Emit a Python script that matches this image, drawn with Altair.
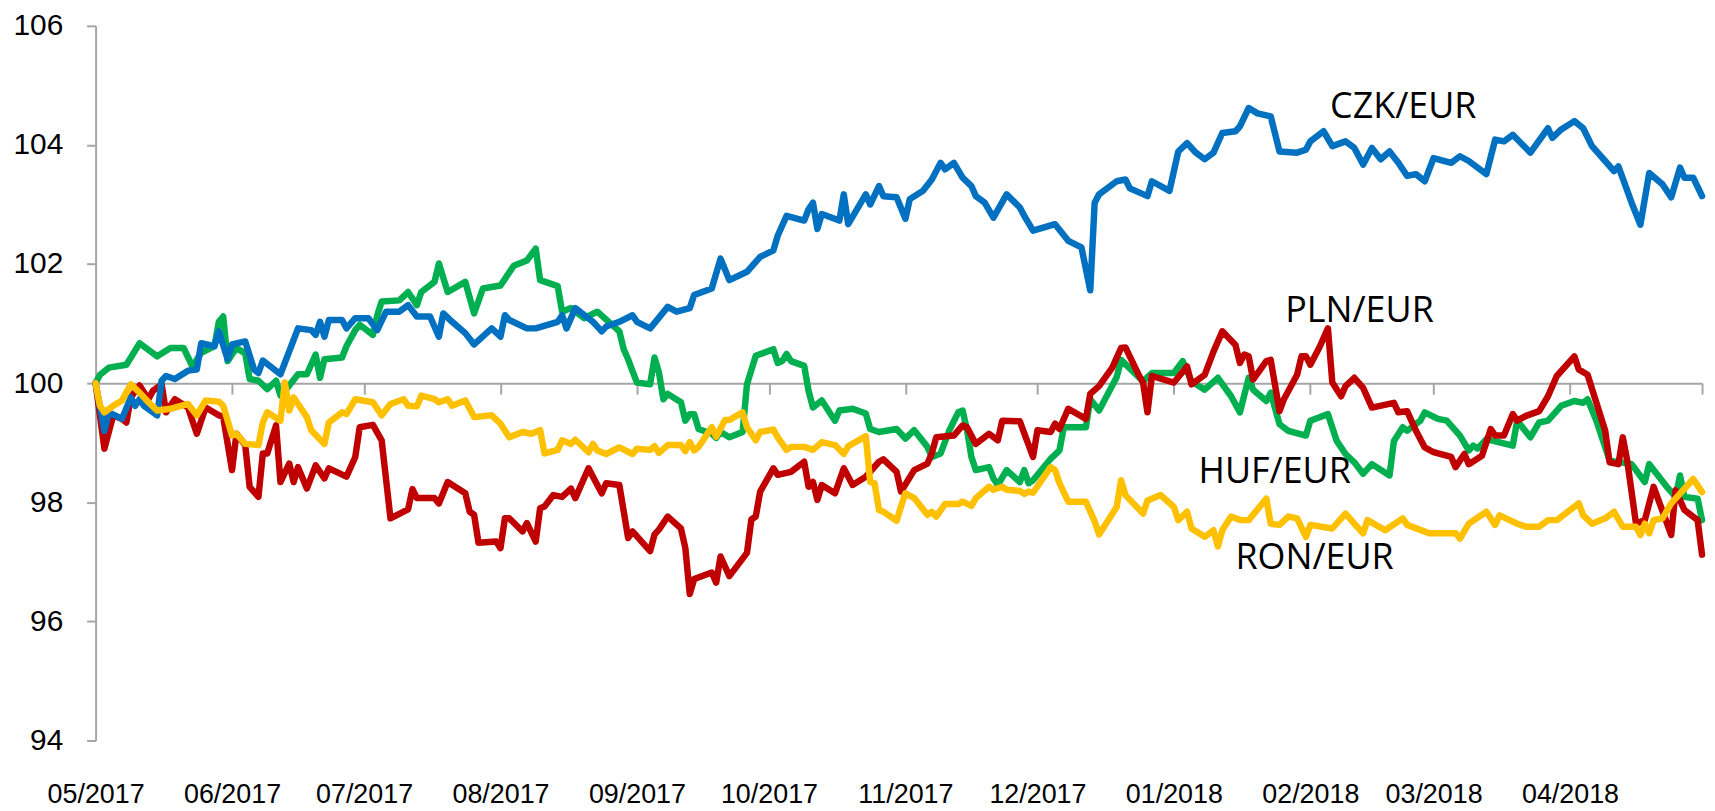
import altair as alt
import pandas as pd

START = pd.Timestamp("2017-05-01")

# ---- data (day offset from 2017-05-01, index value) ----
czk_days = [0, 2, 3, 6, 8, 9, 10, 11, 14, 15, 16, 18, 21, 23, 24, 27, 28, 30, 31, 34, 36, 37, 38, 42,
            46, 49, 50, 51, 52, 53, 56, 57, 59, 62, 64, 66, 69, 71, 73, 76, 78, 79, 81, 84, 86, 90,
            92, 93, 94, 98, 100, 105, 106, 107, 109, 113, 115, 116, 119, 122, 123, 126, 130, 132,
            135, 136, 140, 142, 144, 148, 151, 154, 155, 157, 161, 162, 163, 164, 165, 169, 170,
            171, 175, 176, 178, 179, 182, 184, 185, 188, 190, 192, 193, 195, 197, 199, 200, 202,
            204, 207, 210, 211, 213, 218, 221, 224, 226, 227, 228, 232, 234, 235, 239, 240, 244,
            246, 248, 250, 252, 254, 256, 259, 260, 262, 264, 267, 269, 273, 275, 276, 279, 281,
            284, 286, 288, 290, 292, 294, 296, 298, 300, 302, 304, 308, 310, 312, 316, 318, 320,
            322, 326, 330, 331, 333, 336, 338, 340, 343, 345, 346, 349, 351, 353, 356, 358, 360,
            361, 363, 365]
czk_vals = [100.0, 99.2, 99.51, 99.4, 99.76, 99.62, 99.73, 99.62, 99.46, 100.04, 100.12, 100.07,
            100.21, 100.23, 100.67, 100.62, 100.87, 100.4, 100.65, 100.7, 100.23, 100.17, 100.38,
            100.15, 100.92, 100.89, 100.81, 101.03, 100.78, 101.06, 101.06, 100.92, 101.09, 101.09,
            100.89, 101.2, 101.2, 101.31, 101.12, 101.12, 100.78, 101.17, 101.03, 100.84, 100.65,
            100.92, 100.78, 101.14, 101.06, 100.92, 100.92, 101.03, 101.14, 100.92, 101.26, 101.03,
            100.87, 100.95, 101.03, 101.14, 101.03, 100.92, 101.28, 101.2, 101.26, 101.48, 101.59,
            102.09, 101.73, 101.87, 102.12, 102.23, 102.48, 102.81, 102.73, 102.92, 103.03, 102.59,
            102.84, 102.73, 103.17, 102.67, 103.17, 103.0, 103.31, 103.14, 103.12, 102.76, 103.09,
            103.23, 103.42, 103.7, 103.59, 103.7, 103.45, 103.31, 103.14, 103.03, 102.78, 103.17,
            102.95, 102.81, 102.56, 102.67, 102.39, 102.28, 101.56, 103.03, 103.17, 103.39, 103.42,
            103.27, 103.14, 103.39, 103.23, 103.89, 104.03, 103.87, 103.76, 103.87, 104.2, 104.23,
            104.31, 104.62, 104.53, 104.48, 103.89, 103.87, 103.92, 104.06, 104.23, 103.98, 104.06,
            103.95, 103.67, 103.95, 103.76, 103.89, 103.7, 103.48, 103.51, 103.39, 103.78, 103.7,
            103.81, 103.73, 103.51, 104.09, 104.06, 104.17, 103.87, 104.28, 104.12, 104.26, 104.4,
            104.28, 103.98, 103.73, 103.56, 103.64, 103.03, 102.66, 103.53, 103.34, 103.12, 103.62,
            103.45, 103.45, 103.14]

pln_days = [0, 2, 4, 6, 7, 8, 10, 12, 13, 15, 16, 18, 21, 23, 25, 28, 29, 31, 32, 34, 35, 37, 38,
            39, 41, 42, 44, 45, 46, 48, 50, 52, 53, 57, 59, 60, 63, 65, 67, 71, 72, 73, 77, 78, 80,
            84, 85, 86, 87, 91, 92, 93, 94, 97, 98, 100, 101, 102, 104, 106, 108, 109, 112, 114,
            115, 116, 119, 121, 122, 126, 127, 128, 130, 133, 134, 135, 136, 140, 141, 142, 144,
            148, 149, 150, 151, 154, 155, 158, 161, 162, 163, 164, 165, 168, 170, 172, 175, 178,
            179, 182, 183, 186, 189, 190, 191, 195, 197, 198, 200, 203, 205, 206, 210, 213, 214,
            217, 218, 219, 221, 225, 226, 228, 231, 233, 234, 237, 238, 239, 240, 245, 248, 249,
            252, 254, 256, 259, 260, 261, 262, 263, 266, 267, 269, 270, 273, 274, 275, 276, 278,
            280, 281, 283, 284, 286, 288, 290, 295, 296, 298, 300, 302, 304, 308, 309, 311, 312,
            315, 317, 318, 320, 322, 323, 325, 328, 330, 332, 336, 337, 339, 341, 343, 344, 346,
            347, 348, 350, 352, 354, 358, 359, 361, 364, 365]
pln_vals = [100.0, 98.9, 99.46, 99.4, 99.34, 99.76, 99.96, 99.73, 99.87, 99.98, 99.51, 99.73, 99.59,
            99.15, 99.59, 99.46, 99.43, 98.54, 99.15, 98.96, 98.26, 98.09, 98.82, 98.82, 99.29,
            98.34, 98.65, 98.34, 98.59, 98.23, 98.62, 98.4, 98.57, 98.43, 98.76, 99.26, 99.3, 99.04,
            97.73, 97.88, 98.22, 98.07, 98.07, 97.98, 98.34, 98.15, 97.84, 97.79, 97.32, 97.34,
            97.23, 97.73, 97.73, 97.51, 97.65, 97.34, 97.9, 97.93, 98.12, 98.09, 98.23, 98.07,
            98.57, 98.29, 98.15, 98.32, 98.29, 97.4, 97.51, 97.18, 97.46, 97.54, 97.76, 97.56,
            97.23, 96.46, 96.71, 96.82, 96.65, 97.09, 96.76, 97.15, 97.71, 97.76, 98.18, 98.57,
            98.46, 98.51, 98.68, 98.26, 98.34, 98.04, 98.29, 98.15, 98.57, 98.29, 98.43, 98.68,
            98.72, 98.51, 98.18, 98.54, 98.65, 98.82, 99.09, 99.12, 99.29, 99.26, 98.98, 99.15,
            99.04, 99.37, 99.36, 98.76, 99.21, 99.18, 99.32, 99.23, 99.57, 99.4, 99.82, 99.95,
            100.26, 100.59, 100.6, 100.14, 100.01, 99.51, 100.12, 100.01, 100.28, 99.98, 100.14,
            100.53, 100.87, 100.64, 100.34, 100.48, 100.45, 100.06, 100.37, 100.39, 99.53, 99.73,
            100.14, 100.45, 100.45, 100.31, 100.59, 100.92, 100.01, 99.78, 99.95, 100.09, 99.92,
            99.59, 99.67, 99.51, 99.53, 99.2, 98.92, 98.84, 98.76, 98.59, 98.81, 98.64, 98.78,
            99.23, 99.12, 99.12, 99.48, 99.37, 99.45, 99.53, 99.78, 100.12, 100.45, 100.23, 100.14,
            99.67, 99.2, 98.67, 98.64, 99.09, 98.7, 97.64, 97.7, 98.26, 97.45, 98.2, 97.87, 97.7,
            97.12]

huf_days = [0, 1, 3, 7, 10, 14, 17, 20, 22, 24, 27, 28, 29, 30, 32, 34, 35, 37, 39, 41, 42, 44, 46,
            48, 50, 51, 52, 56, 57, 59, 60, 63, 64, 65, 69, 71, 73, 74, 77, 78, 80, 84, 86, 88, 92,
            95, 98, 100, 101, 105, 106, 108, 111, 114, 119, 120, 121, 122, 123, 126, 127, 128, 129,
            130, 133, 134, 135, 136, 137, 140, 141, 142, 144, 147, 148, 150, 154, 155, 156, 157,
            158, 161, 162, 163, 165, 168, 169, 172, 175, 176, 178, 182, 184, 186, 189, 190, 192,
            194, 196, 197, 198, 199, 200, 203, 204, 205, 207, 210, 211, 212, 213, 217, 219, 220,
            225, 226, 228, 232, 233, 238, 240, 245, 247, 249, 252, 255, 258, 260, 262, 263, 266,
            267, 269, 271, 275, 276, 280, 282, 284, 286, 288, 290, 294, 295, 297, 298, 301, 302,
            305, 307, 310, 312, 313, 314, 316, 322, 323, 326, 328, 330, 333, 336, 338, 339, 341,
            344, 349, 352, 353, 357, 359, 360, 361, 364, 365]
huf_vals = [100.0, 100.14, 100.26, 100.31, 100.67, 100.45, 100.59, 100.59, 100.28, 100.51, 100.62,
            101.03, 101.12, 100.37, 100.59, 100.5, 100.07, 100.04, 99.9, 100.04, 99.79, 99.96,
            100.15, 100.15, 100.48, 100.09, 100.4, 100.43, 100.62, 100.89, 100.98, 100.81, 101.14,
            101.37, 101.39, 101.53, 101.31, 101.53, 101.7, 102.01, 101.53, 101.7, 101.17, 101.59,
            101.64, 101.97, 102.06, 102.26, 101.73, 101.63, 101.2, 101.26, 101.09, 101.2, 100.87,
            100.57, 100.4, 100.2, 100.01, 99.98, 100.43, 100.18, 99.73, 99.82, 99.68, 99.37, 99.48,
            99.48, 99.23, 99.15, 99.08, 99.18, 99.09, 99.18, 99.98, 100.46, 100.57, 100.34, 100.37,
            100.49, 100.37, 100.29, 99.87, 99.59, 99.71, 99.37, 99.54, 99.57, 99.49, 99.23, 99.18,
            99.23, 99.07, 99.21, 98.93, 98.76, 98.82, 99.21, 99.51, 99.54, 99.21, 98.76, 98.54,
            98.59, 98.4, 98.29, 98.54, 98.34, 98.54, 98.32, 98.37, 98.73, 98.87, 99.26, 99.26,
            99.73, 99.54, 100.1, 100.39, 100.03, 100.17, 100.17, 100.37, 100.03, 99.89, 100.09,
            99.78, 99.51, 100.09, 99.89, 99.7, 99.84, 99.31, 99.2, 99.12, 99.37, 99.48, 99.03,
            98.81, 98.67, 98.48, 98.64, 98.45, 99.03, 99.26, 99.2, 99.37, 99.51, 99.4, 99.37,
            99.12, 98.87, 98.95, 98.9, 99.06, 98.95, 99.37, 99.09, 99.34, 99.37, 99.62, 99.7, 99.67,
            99.73, 99.37, 98.7, 98.64, 98.34, 98.64, 98.26, 98.09, 98.45, 98.09, 98.06, 97.7]

ron_days = [0, 1, 2, 4, 6, 8, 10, 12, 14, 17, 21, 23, 25, 28, 29, 31, 32, 34, 37, 38, 39, 42, 43,
            44, 45, 48, 49, 52, 53, 56, 57, 59, 63, 65, 67, 70, 71, 73, 74, 77, 78, 80, 81, 84, 86,
            90, 92, 94, 97, 99, 101, 102, 105, 106, 108, 109, 112, 113, 114, 116, 119, 122, 123,
            126, 127, 128, 130, 133, 134, 135, 136, 137, 140, 141, 143, 144, 147, 148, 150, 151,
            154, 155, 157, 158, 161, 163, 165, 168, 170, 171, 175, 176, 177, 178, 179, 182, 183,
            184, 186, 189, 190, 191, 193, 196, 197, 199, 200, 203, 204, 206, 207, 210, 211, 212,
            213, 217, 218, 219, 221, 225, 227, 228, 232, 233, 234, 238, 239, 242, 245, 246, 248,
            249, 252, 254, 255, 256, 258, 260, 262, 266, 267, 269, 271, 273, 275, 276, 281, 284,
            286, 288, 289, 293, 297, 298, 303, 309, 310, 312, 316, 318, 319, 323, 325, 328, 330,
            332, 337, 338, 340, 343, 345, 347, 350, 351, 352, 353, 354, 356, 358, 363, 365]
ron_vals = [100.0, 99.62, 99.51, 99.62, 99.71, 99.98, 99.84, 99.68, 99.54, 99.57, 99.65, 99.46,
            99.71, 99.69, 99.62, 99.12, 99.15, 98.98, 98.96, 99.34, 99.51, 99.37, 100.01, 99.54,
            99.76, 99.43, 99.21, 98.98, 99.34, 99.51, 99.48, 99.73, 99.68, 99.46, 99.65, 99.73,
            99.62, 99.61, 99.79, 99.73, 99.68, 99.73, 99.62, 99.71, 99.43, 99.46, 99.32, 99.09,
            99.18, 99.15, 99.21, 98.82, 98.88, 99.04, 98.98, 99.05, 98.84, 98.98, 98.87, 98.81,
            98.92, 98.81, 98.9, 98.88, 98.94, 98.83, 98.96, 98.96, 98.86, 99.01, 98.87, 98.93,
            99.26, 99.1, 99.38, 99.38, 99.51, 99.26, 99.04, 99.18, 99.22, 99.09, 98.88, 98.93,
            98.93, 98.88, 99.01, 98.96, 98.81, 98.94, 99.11, 98.34, 98.32, 97.87, 97.84, 97.69,
            97.93, 98.15, 98.07, 97.79, 97.84, 97.76, 97.97, 97.97, 98.01, 97.94, 98.07, 98.26,
            98.21, 98.26, 98.21, 98.19, 98.14, 98.18, 98.16, 98.59, 98.54, 98.32, 98.01, 98.01,
            97.68, 97.46, 97.92, 98.37, 98.12, 97.81, 98.03, 98.12, 97.92, 97.7, 97.84, 97.56,
            97.42, 97.53, 97.26, 97.53, 97.76, 97.7, 97.7, 98.06, 97.64, 97.62, 97.76, 97.73,
            97.42, 97.62, 97.56, 97.81, 97.64, 97.48, 97.7, 97.53, 97.73, 97.62, 97.48, 97.48,
            97.39, 97.64, 97.84, 97.62, 97.78, 97.64, 97.59, 97.59, 97.7, 97.7, 97.98, 97.78,
            97.64, 97.73, 97.84, 97.59, 97.59, 97.45, 97.64, 97.48, 97.7, 97.73, 97.98, 98.39,
            98.17]

label_texts = ["CZK/EUR", "PLN/EUR", "HUF/EUR", "RON/EUR"]
label_days = [280.5, 270.3, 250.6, 259.0]
label_vals = [104.45, 101.03, 98.32, 96.88]

y_ticks = [94, 96, 98, 100, 102, 104, 106]

COLORS = {"CZK": "#0070C0", "PLN": "#C00000", "HUF": "#00B050", "RON": "#FFC000"}

PLOT_H = 718


def frame(days, vals):
    return pd.DataFrame({"date": [START + pd.Timedelta(days=d) for d in days], "value": vals})


month_ticks = [alt.DateTime(year=2017 + (4 + i) // 12, month=(4 + i) % 12 + 1, date=1) for i in range(13)]

x_scale = alt.Scale(domain=[alt.DateTime(year=2017, month=5, date=1),
                            alt.DateTime(year=2018, month=5, date=1)])
y_scale = alt.Scale(domain=[94, 106], nice=False, zero=False)

x_axis = alt.Axis(
    values=month_ticks,
    labelExpr="(month(datum.value) == 4 && year(datum.value) == 2018) ? '' : timeFormat(datum.value, '%m/%Y')",
    offset=-PLOT_H / 2, tickSize=11, labelPadding=389, labelOverlap=False, labelFlush=False,
    labelBound=False, labelFontSize=27, title=None, labelColor="black",
)
y_axis = alt.Axis(values=y_ticks, tickSize=9, labelPadding=24, labelFontSize=30, title=None,
                  labelColor="black")


def line(days, vals, color):
    return alt.Chart(frame(days, vals)).mark_line(
        color=color, strokeWidth=6.5, strokeJoin="round", strokeCap="round"
    ).encode(
        x=alt.X("date:T", scale=x_scale, axis=x_axis),
        y=alt.Y("value:Q", scale=y_scale, axis=y_axis),
    )


labels_df = pd.DataFrame({
    "label": label_texts,
    "date": [START + pd.Timedelta(days=d) for d in label_days],
    "value": label_vals,
})
labels = alt.Chart(labels_df).mark_text(
    align="left", baseline="alphabetic", font="Open Sans", fontSize=36, color="black"
).encode(
    x=alt.X("date:T", scale=x_scale, axis=x_axis),
    y=alt.Y("value:Q", scale=y_scale, axis=y_axis),
    text="label:N",
)

chart = alt.layer(
    line(huf_days, huf_vals, COLORS["HUF"]),
    line(pln_days, pln_vals, COLORS["PLN"]),
    line(czk_days, czk_vals, COLORS["CZK"]),
    line(ron_days, ron_vals, COLORS["RON"]),
    labels,
).properties(
    width=1614, height=PLOT_H,
    autosize=alt.AutoSizeParams(type="none"),
    padding={"left": 88, "top": 16, "right": 5, "bottom": 80},
).configure_view(stroke=None).configure_axis(
    grid=False, domainColor="#A6A6A6", domainWidth=2, tickColor="#A6A6A6", tickWidth=2,
    labelFont="Liberation Sans",
)

chart.save("out.html", embed_options={"renderer": "svg", "actions": False})
